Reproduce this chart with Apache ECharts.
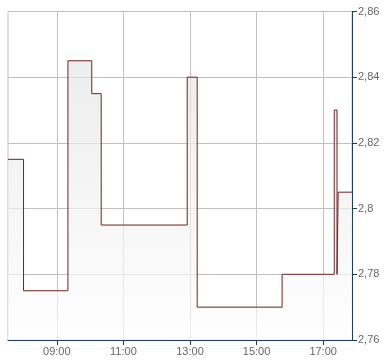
<!DOCTYPE html>
<html><head><meta charset="utf-8">
<script src="https://cdn.jsdelivr.net/npm/echarts@6/dist/echarts.min.js"></script>
<style>html,body{margin:0;padding:0;background:#fff}#c{width:390px;height:364px}</style>
</head><body><div id="c"></div>
<script>
// step times (HH:MM) and the price held from that time on
const times = ["07:32","08:00","09:20","10:03","10:20","12:55","13:13","15:46","17:20","17:25","17:27","17:52"];
const prices = [2.815,2.775,2.845,2.835,2.795,2.84,2.77,2.78,2.83,2.78,2.805,2.805];
const xTickLabels = ["09:00","11:00","13:00","15:00","17:00"];
const yMin = 2.76, yMax = 2.86, yStep = 0.02;

const toMin = s => { const p = s.split(':'); return +p[0]*60 + +p[1]; };
const fmt = m => { const h = Math.floor(m/60), mm = Math.round(m%60); return (h<10?'0':'')+h+':'+(mm<10?'0':'')+mm; };
const data = times.map((t,i)=>[toMin(t), prices[i]]);
const xTicks = xTickLabels.map(toMin);

const chart = echarts.init(document.getElementById('c'));
chart.setOption({
  animation:false,
  grid:{left:8,right:38,top:11.5,bottom:24,show:true,borderColor:'#c0c0c0',borderWidth:1},
  xAxis:{type:'value',min:toMin(times[0]),max:toMin(times[times.length-1]),
    axisLine:{show:true,lineStyle:{color:'#1f3a64',width:1}},
    axisTick:{show:true,length:5,lineStyle:{color:'#1f3a64'},customValues:xTicks},
    axisLabel:{customValues:xTicks,formatter:v=>fmt(v),color:'#666',fontFamily:'Liberation Sans, Arial',fontSize:11,margin:6},
    splitLine:{show:true,lineStyle:{color:'#c0c0c0',width:1}}
  },
  yAxis:{type:'value',position:'right',min:yMin,max:yMax,interval:yStep,
    axisLine:{show:true,lineStyle:{color:'#1f3a64',width:1}},
    axisTick:{show:true,length:5,lineStyle:{color:'#1f3a64'}},
    axisLabel:{formatter:v=>String(+v.toFixed(3)).replace('.',','),color:'#666',fontFamily:'Liberation Sans, Arial',fontSize:11,margin:6},
    splitLine:{show:true,lineStyle:{color:'#c0c0c0',width:1}}
  },
  series:[{type:'line',step:'end',data:data,symbol:'none',
    lineStyle:{color:'#6b2424',width:1},
    areaStyle:{origin:'start',color:new echarts.graphic.LinearGradient(0,11,0,340,[{offset:0,color:'#e0e0e0'},{offset:1,color:'#fdfdfd'}],true)}
  }]
});
</script></body></html>
